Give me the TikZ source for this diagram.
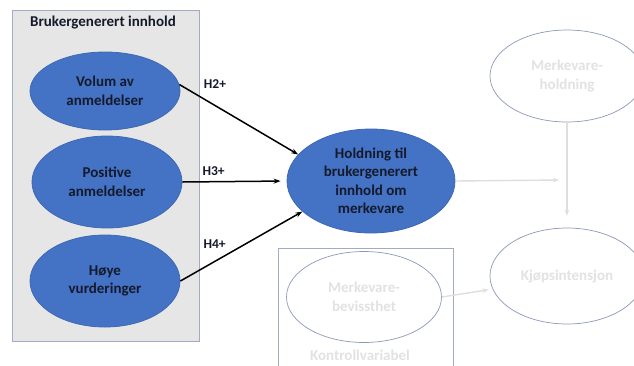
\documentclass[tikz,border=0pt]{standalone}
\usepackage{fontspec}
\setmainfont{Carlito}
\usetikzlibrary{shapes.geometric,arrows.meta}
\definecolor{ugcblue}{HTML}{4472C4}
\definecolor{ugcedge}{HTML}{3E68B4}
\definecolor{panelfill}{HTML}{E7E6E6}
\definecolor{paneledge}{HTML}{A3ABC2}
\definecolor{ghosttext}{HTML}{E2E2E2}
\definecolor{ghostedge}{HTML}{8E99BA}
\definecolor{ghostline}{HTML}{DEDEDE}
\definecolor{inktext}{HTML}{141A2C}
\tikzset{
  lbl/.style={font=\fontsize{15}{18.5}\selectfont\bfseries, align=center},
  blueoval/.style={ellipse, draw=ugcedge, line width=0.8pt, fill=ugcblue, inner sep=0pt,
    lbl, text=inktext},
  ghostoval/.style={ellipse, draw=ghostedge, line width=0.7pt, fill=white, inner sep=0pt,
    lbl, text=ghosttext},
  hyparrow/.style={-{Stealth[length=7pt,width=5pt]}, line width=1.5pt, black},
  ghostarrow/.style={-{Stealth[length=6pt,width=4.5pt]}, line width=1.4pt, ghostline},
  hyplabel/.style={font=\fontsize{13.5}{15}\selectfont\bfseries, text=inktext}
}
\begin{document}
\begin{tikzpicture}[x=1pt,y=-1pt]
\useasboundingbox (0,0) rectangle (634,365);
\fill[white] (0,0) rectangle (634,365);

% panel of user-generated content constructs
\draw[fill=panelfill, draw=paneledge, line width=0.8pt] (12,10) rectangle (199,341);
\node[lbl, text=inktext] (paneltitle) at (103,23) {Brukergenerert innhold};

\node[blueoval, minimum width=150pt, minimum height=78pt] (vol) at (105,91) {Volum av\\anmeldelser};
\node[blueoval, minimum width=150pt, minimum height=92pt] (pos) at (107,182) {Positive\\anmeldelser};
\node[blueoval, minimum width=150pt, minimum height=92pt] (hoy) at (105,281) {Høye\\vurderinger};

\node[blueoval, minimum width=168pt, minimum height=104pt] (att) at (371,181)
  {Holdning til\\brukergenerert\\innhold om\\merkevare};

% control variable panel
\draw[draw=paneledge, line width=0.8pt, fill=white] (278,248) rectangle (453,380);
\node[ghostoval, minimum width=155pt, minimum height=91pt] (aware) at (364,297) {Merkevare-\\bevissthet};
\node[lbl, text=ghosttext] (ctrl) at (360,355) {Kontrollvariabel};

% outcome constructs
\node[ghostoval, minimum width=154pt, minimum height=92pt] (brand) at (567,76) {Merkevare-\\holdning};
\node[ghostoval, minimum width=154pt, minimum height=96pt] (buy) at (567,276) {Kjøpsintensjon};

% hypothesised paths
\draw[hyparrow] (vol.5) -- (att.160) node[pos=0.3, above=13pt, hyplabel] (h2) {H2+};
\draw[hyparrow, shorten >=6pt] (pos.east) -- (att.west) node[pos=0.3, above=2pt, hyplabel] (h3) {H3+};
\draw[hyparrow] (hoy.east) -- (att.204) node[pos=0.28, above=9pt, hyplabel] (h4) {H4+};

% remaining paths
\coordinate (hend) at (559,180);
\draw[ghostarrow] (att.east) -- (hend);
\draw[ghostarrow, shorten >=12pt] (brand.south) -- (buy.north);
\draw[ghostarrow, shorten >=4pt] (aware.east) -- (buy.190);
\end{tikzpicture}
\end{document}
